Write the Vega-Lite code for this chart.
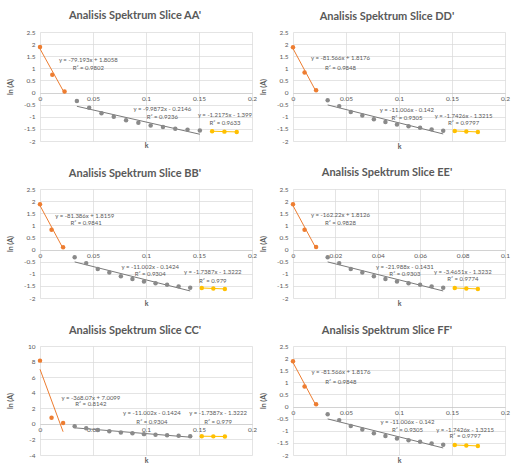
{
  "$schema": "https://vega.github.io/schema/vega-lite/v6.json",
  "background": "white",
  "padding": {"left": 6, "top": 10, "right": 2, "bottom": 2},
  "datasets": {
    "pts": [
      {"p":"AA","s":"o","k":0,"lnA":1.88},{"p":"AA","s":"o","k":0.0116,"lnA":0.739},{"p":"AA","s":"o","k":0.0232,"lnA":0.043},
      {"p":"AA","s":"g","k":0.0348,"lnA":-0.35},{"p":"AA","s":"g","k":0.0464,"lnA":-0.625},{"p":"AA","s":"g","k":0.058,"lnA":-0.85},{"p":"AA","s":"g","k":0.0696,"lnA":-1.0},{"p":"AA","s":"g","k":0.0812,"lnA":-1.14},{"p":"AA","s":"g","k":0.0928,"lnA":-1.25},{"p":"AA","s":"g","k":0.1044,"lnA":-1.36},{"p":"AA","s":"g","k":0.116,"lnA":-1.42},{"p":"AA","s":"g","k":0.1276,"lnA":-1.49},{"p":"AA","s":"g","k":0.1392,"lnA":-1.53},{"p":"AA","s":"g","k":0.1508,"lnA":-1.57},
      {"p":"AA","s":"y","k":0.1624,"lnA":-1.596},{"p":"AA","s":"y","k":0.174,"lnA":-1.613},{"p":"AA","s":"y","k":0.1856,"lnA":-1.624},

      {"p":"BB","s":"o","k":0,"lnA":1.87},{"p":"BB","s":"o","k":0.0109,"lnA":0.82},{"p":"BB","s":"o","k":0.0218,"lnA":0.096},
      {"p":"BB","s":"g","k":0.0327,"lnA":-0.32},{"p":"BB","s":"g","k":0.0436,"lnA":-0.56},{"p":"BB","s":"g","k":0.0545,"lnA":-0.8},{"p":"BB","s":"g","k":0.0654,"lnA":-0.95},{"p":"BB","s":"g","k":0.0763,"lnA":-1.1},{"p":"BB","s":"g","k":0.0872,"lnA":-1.22},{"p":"BB","s":"g","k":0.0981,"lnA":-1.32},{"p":"BB","s":"g","k":0.109,"lnA":-1.39},{"p":"BB","s":"g","k":0.1199,"lnA":-1.45},{"p":"BB","s":"g","k":0.1308,"lnA":-1.52},{"p":"BB","s":"g","k":0.1417,"lnA":-1.58},
      {"p":"BB","s":"y","k":0.1526,"lnA":-1.587},{"p":"BB","s":"y","k":0.1635,"lnA":-1.606},{"p":"BB","s":"y","k":0.1744,"lnA":-1.625},

      {"p":"CC","s":"o","k":0,"lnA":8.12},{"p":"CC","s":"o","k":0.0109,"lnA":0.78},{"p":"CC","s":"o","k":0.0218,"lnA":0.096},
      {"p":"CC","s":"g","k":0.0327,"lnA":-0.32},{"p":"CC","s":"g","k":0.0436,"lnA":-0.56},{"p":"CC","s":"g","k":0.0545,"lnA":-0.8},{"p":"CC","s":"g","k":0.0654,"lnA":-0.95},{"p":"CC","s":"g","k":0.0763,"lnA":-1.1},{"p":"CC","s":"g","k":0.0872,"lnA":-1.22},{"p":"CC","s":"g","k":0.0981,"lnA":-1.32},{"p":"CC","s":"g","k":0.109,"lnA":-1.39},{"p":"CC","s":"g","k":0.1199,"lnA":-1.45},{"p":"CC","s":"g","k":0.1308,"lnA":-1.52},{"p":"CC","s":"g","k":0.1417,"lnA":-1.58},
      {"p":"CC","s":"y","k":0.1526,"lnA":-1.587},{"p":"CC","s":"y","k":0.1635,"lnA":-1.606},{"p":"CC","s":"y","k":0.1744,"lnA":-1.625},

      {"p":"DD","s":"o","k":0,"lnA":1.87},{"p":"DD","s":"o","k":0.0109,"lnA":0.824},{"p":"DD","s":"o","k":0.0218,"lnA":0.092},
      {"p":"DD","s":"g","k":0.0327,"lnA":-0.32},{"p":"DD","s":"g","k":0.0436,"lnA":-0.56},{"p":"DD","s":"g","k":0.0545,"lnA":-0.8},{"p":"DD","s":"g","k":0.0654,"lnA":-0.95},{"p":"DD","s":"g","k":0.0763,"lnA":-1.1},{"p":"DD","s":"g","k":0.0872,"lnA":-1.22},{"p":"DD","s":"g","k":0.0981,"lnA":-1.32},{"p":"DD","s":"g","k":0.109,"lnA":-1.39},{"p":"DD","s":"g","k":0.1199,"lnA":-1.45},{"p":"DD","s":"g","k":0.1308,"lnA":-1.52},{"p":"DD","s":"g","k":0.1417,"lnA":-1.58},
      {"p":"DD","s":"y","k":0.1526,"lnA":-1.587},{"p":"DD","s":"y","k":0.1635,"lnA":-1.606},{"p":"DD","s":"y","k":0.1744,"lnA":-1.625},

      {"p":"EE","s":"o","k":0,"lnA":1.87},{"p":"EE","s":"o","k":0.00545,"lnA":0.8135},{"p":"EE","s":"o","k":0.0109,"lnA":0.102},
      {"p":"EE","s":"g","k":0.01635,"lnA":-0.32},{"p":"EE","s":"g","k":0.0218,"lnA":-0.56},{"p":"EE","s":"g","k":0.02725,"lnA":-0.8},{"p":"EE","s":"g","k":0.0327,"lnA":-0.95},{"p":"EE","s":"g","k":0.03815,"lnA":-1.1},{"p":"EE","s":"g","k":0.0436,"lnA":-1.22},{"p":"EE","s":"g","k":0.04905,"lnA":-1.32},{"p":"EE","s":"g","k":0.0545,"lnA":-1.39},{"p":"EE","s":"g","k":0.05995,"lnA":-1.45},{"p":"EE","s":"g","k":0.0654,"lnA":-1.52},{"p":"EE","s":"g","k":0.07085,"lnA":-1.58},
      {"p":"EE","s":"y","k":0.0763,"lnA":-1.587},{"p":"EE","s":"y","k":0.08175,"lnA":-1.606},{"p":"EE","s":"y","k":0.0872,"lnA":-1.625},

      {"p":"FF","s":"o","k":0,"lnA":1.87},{"p":"FF","s":"o","k":0.0109,"lnA":0.824},{"p":"FF","s":"o","k":0.0218,"lnA":0.092},
      {"p":"FF","s":"g","k":0.0327,"lnA":-0.32},{"p":"FF","s":"g","k":0.0436,"lnA":-0.56},{"p":"FF","s":"g","k":0.0545,"lnA":-0.8},{"p":"FF","s":"g","k":0.0654,"lnA":-0.95},{"p":"FF","s":"g","k":0.0763,"lnA":-1.1},{"p":"FF","s":"g","k":0.0872,"lnA":-1.22},{"p":"FF","s":"g","k":0.0981,"lnA":-1.32},{"p":"FF","s":"g","k":0.109,"lnA":-1.39},{"p":"FF","s":"g","k":0.1199,"lnA":-1.45},{"p":"FF","s":"g","k":0.1308,"lnA":-1.52},{"p":"FF","s":"g","k":0.1417,"lnA":-1.58},
      {"p":"FF","s":"y","k":0.1526,"lnA":-1.587},{"p":"FF","s":"y","k":0.1635,"lnA":-1.606},{"p":"FF","s":"y","k":0.1744,"lnA":-1.625}
    ],
    "lbl": [
      {"p":"AA","k":0.0456,"lnA":1.33,"t":"y = -79.193x + 1.8058"},{"p":"AA","k":0.0456,"lnA":1.0,"t":"R² = 0.9802"},
      {"p":"AA","k":0.1154,"lnA":-0.69,"t":"y = -9.9872x - 0.2146"},{"p":"AA","k":0.1154,"lnA":-0.99,"t":"R² = 0.9236"},
      {"p":"AA","k":0.1745,"lnA":-0.94,"t":"y = -1.2175x - 1.399"},{"p":"AA","k":0.1745,"lnA":-1.26,"t":"R² = 0.9633"},

      {"p":"BB","k":0.0422,"lnA":1.4,"t":"y = -81.386x + 1.8159"},{"p":"BB","k":0.0435,"lnA":1.08,"t":"R² = 0.9841"},
      {"p":"BB","k":0.104,"lnA":-0.7,"t":"y = -11.002x - 0.1424"},{"p":"BB","k":0.104,"lnA":-1.02,"t":"R² = 0.9304"},
      {"p":"BB","k":0.163,"lnA":-0.93,"t":"y = -1.7387x - 1.3222"},{"p":"BB","k":0.163,"lnA":-1.28,"t":"R² = 0.979"},

      {"p":"CC","k":0.048,"lnA":3.31,"t":"y = -368.07x + 7.0099"},{"p":"CC","k":0.048,"lnA":2.56,"t":"R² = 0.8142"},
      {"p":"CC","k":0.1056,"lnA":1.38,"t":"y = -11.002x - 0.1424"},{"p":"CC","k":0.1056,"lnA":0.29,"t":"R² = 0.9304"},
      {"p":"CC","k":0.168,"lnA":1.38,"t":"y = -1.7387x - 1.3222"},{"p":"CC","k":0.168,"lnA":0.29,"t":"R² = 0.979"},

      {"p":"DD","k":0.0448,"lnA":1.41,"t":"y = -81.566x + 1.8176"},{"p":"DD","k":0.0448,"lnA":1.03,"t":"R² = 0.9848"},
      {"p":"DD","k":0.1075,"lnA":-0.73,"t":"y = -11.006x - 0.142"},{"p":"DD","k":0.1075,"lnA":-1.03,"t":"R² = 0.9305"},
      {"p":"DD","k":0.161,"lnA":-0.95,"t":"y = -1.7426x - 1.3215"},{"p":"DD","k":0.161,"lnA":-1.26,"t":"R² = 0.9797"},

      {"p":"EE","k":0.0224,"lnA":1.41,"t":"y = -162.22x + 1.8126"},{"p":"EE","k":0.0224,"lnA":1.1,"t":"R² = 0.9828"},
      {"p":"EE","k":0.0528,"lnA":-0.71,"t":"y = -21.988x - 0.1431"},{"p":"EE","k":0.0528,"lnA":-1.01,"t":"R² = 0.9303"},
      {"p":"EE","k":0.0801,"lnA":-0.93,"t":"y = -3.4651x - 1.3232"},{"p":"EE","k":0.0801,"lnA":-1.23,"t":"R² = 0.9774"},

      {"p":"FF","k":0.0452,"lnA":1.41,"t":"y = -81.566x + 1.8176"},{"p":"FF","k":0.0452,"lnA":1.02,"t":"R² = 0.9848"},
      {"p":"FF","k":0.108,"lnA":-0.64,"t":"y = -11.006x - 0.142"},{"p":"FF","k":0.108,"lnA":-0.955,"t":"R² = 0.9305"},
      {"p":"FF","k":0.1624,"lnA":-0.955,"t":"y = -1.7426x - 1.3215"},{"p":"FF","k":0.1624,"lnA":-1.23,"t":"R² = 0.9797"}
    ]
  },
  "columns": 2,
  "spacing": {"row": 48, "column": 41},
  "bounds": "flush",
  "concat": [
    {
      "title": {"text": "Analisis Spektrum Slice AA'", "dx": -11, "offset": 8},
      "width": 212, "height": 109,
      "layer": [
        {"data": {"name": "pts"}, "transform": [{"filter": "datum.p == 'AA'"}, {"regression": "lnA", "on": "k", "groupby": ["s"]}],
         "mark": {"type": "line", "strokeWidth": 1},
         "encoding": {
           "x": {"field": "k", "type": "quantitative", "scale": {"domain": [0, 0.2], "nice": false}, "axis": {"values": [0, 0.05, 0.1, 0.15, 0.2], "labelExpr": "'' + datum.value", "labelPadding": -45.9, "labelFlush": false, "labelOverlap": false, "grid": true, "ticks": false, "domain": false, "title": "k", "titleY": 4.5, "titleBaseline": "middle"}},
           "y": {"field": "lnA", "type": "quantitative", "scale": {"domain": [-2, 2.5], "nice": false}, "axis": {"values": [-2, -1.5, -1, -0.5, 0, 0.5, 1, 1.5, 2, 2.5], "labelExpr": "'' + datum.value", "grid": true, "gridColor": {"condition": {"test": "datum.value === 0", "value": "#bfbfbf"}, "value": "#d9d9d9"}, "ticks": false, "domain": false, "title": "ln (A)", "titleX": -30, "titleBaseline": "middle"}},
           "stroke": {"field": "s", "type": "nominal", "scale": {"domain": ["o", "g", "y"], "range": ["#ED7D31", "#7a7a7a", "#FFC000"]}, "legend": null}
         }},
        {"data": {"name": "pts"}, "transform": [{"filter": "datum.p == 'AA'"}],
         "mark": {"type": "circle", "size": 20, "opacity": 1},
         "encoding": {
           "x": {"field": "k", "type": "quantitative", "scale": {"domain": [0, 0.2], "nice": false}, "axis": null},
           "y": {"field": "lnA", "type": "quantitative", "scale": {"domain": [-2, 2.5], "nice": false}, "axis": null},
           "color": {"field": "s", "type": "nominal", "scale": {"domain": ["o", "g", "y"], "range": ["#ED7D31", "#8a8a8a", "#FFC000"]}, "legend": null}
         }},
        {"data": {"name": "lbl"}, "transform": [{"filter": "datum.p == 'AA'"}],
         "mark": {"type": "text", "fontSize": 6, "color": "#595959", "font": "Lato"},
         "encoding": {
           "x": {"field": "k", "type": "quantitative", "axis": null},
           "y": {"field": "lnA", "type": "quantitative", "axis": null},
           "text": {"field": "t"}
         }}
      ],
      "resolve": {"axis": {"x": "independent", "y": "independent"}}
    },
    {
      "title": {"text": "Analisis Spektrum Slice DD'", "dx": -12, "offset": 7},
      "width": 212, "height": 109,
      "layer": [
        {"data": {"name": "pts"}, "transform": [{"filter": "datum.p == 'DD'"}, {"regression": "lnA", "on": "k", "groupby": ["s"]}],
         "mark": {"type": "line", "strokeWidth": 1},
         "encoding": {
           "x": {"field": "k", "type": "quantitative", "scale": {"domain": [0, 0.2], "nice": false}, "axis": {"values": [0, 0.05, 0.1, 0.15, 0.2], "labelExpr": "'' + datum.value", "labelPadding": -45.9, "labelFlush": false, "labelOverlap": false, "grid": true, "ticks": false, "domain": false, "title": "k", "titleY": 5.5, "titleBaseline": "middle"}},
           "y": {"field": "lnA", "type": "quantitative", "scale": {"domain": [-2, 2.5], "nice": false}, "axis": {"values": [-2, -1.5, -1, -0.5, 0, 0.5, 1, 1.5, 2, 2.5], "labelExpr": "'' + datum.value", "grid": true, "gridColor": {"condition": {"test": "datum.value === 0", "value": "#bfbfbf"}, "value": "#d9d9d9"}, "ticks": false, "domain": false, "title": "ln (A)", "titleX": -30, "titleBaseline": "middle"}},
           "stroke": {"field": "s", "type": "nominal", "scale": {"domain": ["o", "g", "y"], "range": ["#ED7D31", "#7a7a7a", "#FFC000"]}, "legend": null}
         }},
        {"data": {"name": "pts"}, "transform": [{"filter": "datum.p == 'DD'"}],
         "mark": {"type": "circle", "size": 20, "opacity": 1},
         "encoding": {
           "x": {"field": "k", "type": "quantitative", "scale": {"domain": [0, 0.2], "nice": false}, "axis": null},
           "y": {"field": "lnA", "type": "quantitative", "scale": {"domain": [-2, 2.5], "nice": false}, "axis": null},
           "color": {"field": "s", "type": "nominal", "scale": {"domain": ["o", "g", "y"], "range": ["#ED7D31", "#8a8a8a", "#FFC000"]}, "legend": null}
         }},
        {"data": {"name": "lbl"}, "transform": [{"filter": "datum.p == 'DD'"}],
         "mark": {"type": "text", "fontSize": 6, "color": "#595959", "font": "Lato"},
         "encoding": {
           "x": {"field": "k", "type": "quantitative", "axis": null},
           "y": {"field": "lnA", "type": "quantitative", "axis": null},
           "text": {"field": "t"}
         }}
      ],
      "resolve": {"axis": {"x": "independent", "y": "independent"}}
    },
    {
      "title": {"text": "Analisis Spektrum Slice BB'", "dx": -11, "offset": 7},
      "width": 212, "height": 109,
      "layer": [
        {"data": {"name": "pts"}, "transform": [{"filter": "datum.p == 'BB'"}, {"regression": "lnA", "on": "k", "groupby": ["s"]}],
         "mark": {"type": "line", "strokeWidth": 1},
         "encoding": {
           "x": {"field": "k", "type": "quantitative", "scale": {"domain": [0, 0.2], "nice": false}, "axis": {"values": [0, 0.05, 0.1, 0.15, 0.2], "labelExpr": "'' + datum.value", "labelPadding": -45.9, "labelFlush": false, "labelOverlap": false, "grid": true, "ticks": false, "domain": false, "title": "k", "titleY": 5, "titleBaseline": "middle"}},
           "y": {"field": "lnA", "type": "quantitative", "scale": {"domain": [-2, 2.5], "nice": false}, "axis": {"values": [-2, -1.5, -1, -0.5, 0, 0.5, 1, 1.5, 2, 2.5], "labelExpr": "'' + datum.value", "grid": true, "gridColor": {"condition": {"test": "datum.value === 0", "value": "#bfbfbf"}, "value": "#d9d9d9"}, "ticks": false, "domain": false, "title": "ln (A)", "titleX": -30, "titleBaseline": "middle"}},
           "stroke": {"field": "s", "type": "nominal", "scale": {"domain": ["o", "g", "y"], "range": ["#ED7D31", "#7a7a7a", "#FFC000"]}, "legend": null}
         }},
        {"data": {"name": "pts"}, "transform": [{"filter": "datum.p == 'BB'"}],
         "mark": {"type": "circle", "size": 20, "opacity": 1},
         "encoding": {
           "x": {"field": "k", "type": "quantitative", "scale": {"domain": [0, 0.2], "nice": false}, "axis": null},
           "y": {"field": "lnA", "type": "quantitative", "scale": {"domain": [-2, 2.5], "nice": false}, "axis": null},
           "color": {"field": "s", "type": "nominal", "scale": {"domain": ["o", "g", "y"], "range": ["#ED7D31", "#8a8a8a", "#FFC000"]}, "legend": null}
         }},
        {"data": {"name": "lbl"}, "transform": [{"filter": "datum.p == 'BB'"}],
         "mark": {"type": "text", "fontSize": 6, "color": "#595959", "font": "Lato"},
         "encoding": {
           "x": {"field": "k", "type": "quantitative", "axis": null},
           "y": {"field": "lnA", "type": "quantitative", "axis": null},
           "text": {"field": "t"}
         }}
      ],
      "resolve": {"axis": {"x": "independent", "y": "independent"}}
    },
    {
      "title": {"text": "Analisis Spektrum Slice EE'", "dx": -12, "offset": 8},
      "width": 212, "height": 109,
      "layer": [
        {"data": {"name": "pts"}, "transform": [{"filter": "datum.p == 'EE'"}, {"regression": "lnA", "on": "k", "groupby": ["s"]}],
         "mark": {"type": "line", "strokeWidth": 1},
         "encoding": {
           "x": {"field": "k", "type": "quantitative", "scale": {"domain": [0, 0.1], "nice": false}, "axis": {"values": [0, 0.02, 0.04, 0.06, 0.08, 0.1], "labelExpr": "'' + datum.value", "labelPadding": -45.9, "labelFlush": false, "labelOverlap": false, "grid": true, "ticks": false, "domain": false, "title": "k", "titleY": 5, "titleBaseline": "middle"}},
           "y": {"field": "lnA", "type": "quantitative", "scale": {"domain": [-2, 2.5], "nice": false}, "axis": {"values": [-2, -1.5, -1, -0.5, 0, 0.5, 1, 1.5, 2, 2.5], "labelExpr": "'' + datum.value", "grid": true, "gridColor": {"condition": {"test": "datum.value === 0", "value": "#bfbfbf"}, "value": "#d9d9d9"}, "ticks": false, "domain": false, "title": "ln (A)", "titleX": -30, "titleBaseline": "middle"}},
           "stroke": {"field": "s", "type": "nominal", "scale": {"domain": ["o", "g", "y"], "range": ["#ED7D31", "#7a7a7a", "#FFC000"]}, "legend": null}
         }},
        {"data": {"name": "pts"}, "transform": [{"filter": "datum.p == 'EE'"}],
         "mark": {"type": "circle", "size": 20, "opacity": 1},
         "encoding": {
           "x": {"field": "k", "type": "quantitative", "scale": {"domain": [0, 0.1], "nice": false}, "axis": null},
           "y": {"field": "lnA", "type": "quantitative", "scale": {"domain": [-2, 2.5], "nice": false}, "axis": null},
           "color": {"field": "s", "type": "nominal", "scale": {"domain": ["o", "g", "y"], "range": ["#ED7D31", "#8a8a8a", "#FFC000"]}, "legend": null}
         }},
        {"data": {"name": "lbl"}, "transform": [{"filter": "datum.p == 'EE'"}],
         "mark": {"type": "text", "fontSize": 6, "color": "#595959", "font": "Lato"},
         "encoding": {
           "x": {"field": "k", "type": "quantitative", "axis": null},
           "y": {"field": "lnA", "type": "quantitative", "axis": null},
           "text": {"field": "t"}
         }}
      ],
      "resolve": {"axis": {"x": "independent", "y": "independent"}}
    },
    {
      "title": {"text": "Analisis Spektrum Slice CC'", "dx": -11, "offset": 7},
      "width": 212, "height": 109,
      "layer": [
        {"data": {"name": "pts"}, "transform": [{"filter": "datum.p == 'CC'"}, {"regression": "lnA", "on": "k", "groupby": ["s"]}],
         "mark": {"type": "line", "strokeWidth": 1},
         "encoding": {
           "x": {"field": "k", "type": "quantitative", "scale": {"domain": [0, 0.2], "nice": false}, "axis": {"values": [0, 0.05, 0.1, 0.15, 0.2], "labelExpr": "'' + datum.value", "labelPadding": -28.6, "labelFlush": false, "labelOverlap": false, "grid": true, "ticks": false, "domain": false, "title": "k", "titleY": 5, "titleBaseline": "middle"}},
           "y": {"field": "lnA", "type": "quantitative", "scale": {"domain": [-4, 10], "nice": false}, "axis": {"values": [-4, -2, 0, 2, 4, 6, 8, 10], "labelExpr": "'' + datum.value", "grid": true, "gridColor": {"condition": {"test": "datum.value === 0", "value": "#bfbfbf"}, "value": "#d9d9d9"}, "ticks": false, "domain": false, "title": "ln (A)", "titleX": -30, "titleBaseline": "middle"}},
           "stroke": {"field": "s", "type": "nominal", "scale": {"domain": ["o", "g", "y"], "range": ["#ED7D31", "#7a7a7a", "#FFC000"]}, "legend": null}
         }},
        {"data": {"name": "pts"}, "transform": [{"filter": "datum.p == 'CC'"}],
         "mark": {"type": "circle", "size": 20, "opacity": 1},
         "encoding": {
           "x": {"field": "k", "type": "quantitative", "scale": {"domain": [0, 0.2], "nice": false}, "axis": null},
           "y": {"field": "lnA", "type": "quantitative", "scale": {"domain": [-4, 10], "nice": false}, "axis": null},
           "color": {"field": "s", "type": "nominal", "scale": {"domain": ["o", "g", "y"], "range": ["#ED7D31", "#8a8a8a", "#FFC000"]}, "legend": null}
         }},
        {"data": {"name": "lbl"}, "transform": [{"filter": "datum.p == 'CC'"}],
         "mark": {"type": "text", "fontSize": 6, "color": "#595959", "font": "Lato"},
         "encoding": {
           "x": {"field": "k", "type": "quantitative", "axis": null},
           "y": {"field": "lnA", "type": "quantitative", "axis": null},
           "text": {"field": "t"}
         }}
      ],
      "resolve": {"axis": {"x": "independent", "y": "independent"}}
    },
    {
      "title": {"text": "Analisis Spektrum Slice FF'", "dx": -12, "offset": 7},
      "width": 212, "height": 109,
      "layer": [
        {"data": {"name": "pts"}, "transform": [{"filter": "datum.p == 'FF'"}, {"regression": "lnA", "on": "k", "groupby": ["s"]}],
         "mark": {"type": "line", "strokeWidth": 1},
         "encoding": {
           "x": {"field": "k", "type": "quantitative", "scale": {"domain": [0, 0.2], "nice": false}, "axis": {"values": [0, 0.05, 0.1, 0.15, 0.2], "labelExpr": "'' + datum.value", "labelPadding": -45.9, "labelFlush": false, "labelOverlap": false, "grid": true, "ticks": false, "domain": false, "title": "k", "titleY": 5, "titleBaseline": "middle"}},
           "y": {"field": "lnA", "type": "quantitative", "scale": {"domain": [-2, 2.5], "nice": false}, "axis": {"values": [-2, -1.5, -1, -0.5, 0, 0.5, 1, 1.5, 2, 2.5], "labelExpr": "'' + datum.value", "grid": true, "gridColor": {"condition": {"test": "datum.value === 0", "value": "#bfbfbf"}, "value": "#d9d9d9"}, "ticks": false, "domain": false, "title": "ln (A)", "titleX": -30, "titleBaseline": "middle"}},
           "stroke": {"field": "s", "type": "nominal", "scale": {"domain": ["o", "g", "y"], "range": ["#ED7D31", "#7a7a7a", "#FFC000"]}, "legend": null}
         }},
        {"data": {"name": "pts"}, "transform": [{"filter": "datum.p == 'FF'"}],
         "mark": {"type": "circle", "size": 20, "opacity": 1},
         "encoding": {
           "x": {"field": "k", "type": "quantitative", "scale": {"domain": [0, 0.2], "nice": false}, "axis": null},
           "y": {"field": "lnA", "type": "quantitative", "scale": {"domain": [-2, 2.5], "nice": false}, "axis": null},
           "color": {"field": "s", "type": "nominal", "scale": {"domain": ["o", "g", "y"], "range": ["#ED7D31", "#8a8a8a", "#FFC000"]}, "legend": null}
         }},
        {"data": {"name": "lbl"}, "transform": [{"filter": "datum.p == 'FF'"}],
         "mark": {"type": "text", "fontSize": 6, "color": "#595959", "font": "Lato"},
         "encoding": {
           "x": {"field": "k", "type": "quantitative", "axis": null},
           "y": {"field": "lnA", "type": "quantitative", "axis": null},
           "text": {"field": "t"}
         }}
      ],
      "resolve": {"axis": {"x": "independent", "y": "independent"}}
    }
  ],
  "config": {
    "view": {"stroke": null},
    "font": "Lato",
    "axis": {"labelFont": "Lato", "labelFontSize": 6.5, "labelColor": "#595959", "labelPadding": 5, "gridColor": "#d9d9d9", "gridWidth": 0.7, "titleFont": "Lato", "titleFontSize": 7, "titleFontWeight": "bold", "titleColor": "#595959"},
    "title": {"font": "Lato", "fontSize": 11, "fontWeight": "bold", "color": "#595959", "anchor": "middle", "frame": "group"}
  }
}
